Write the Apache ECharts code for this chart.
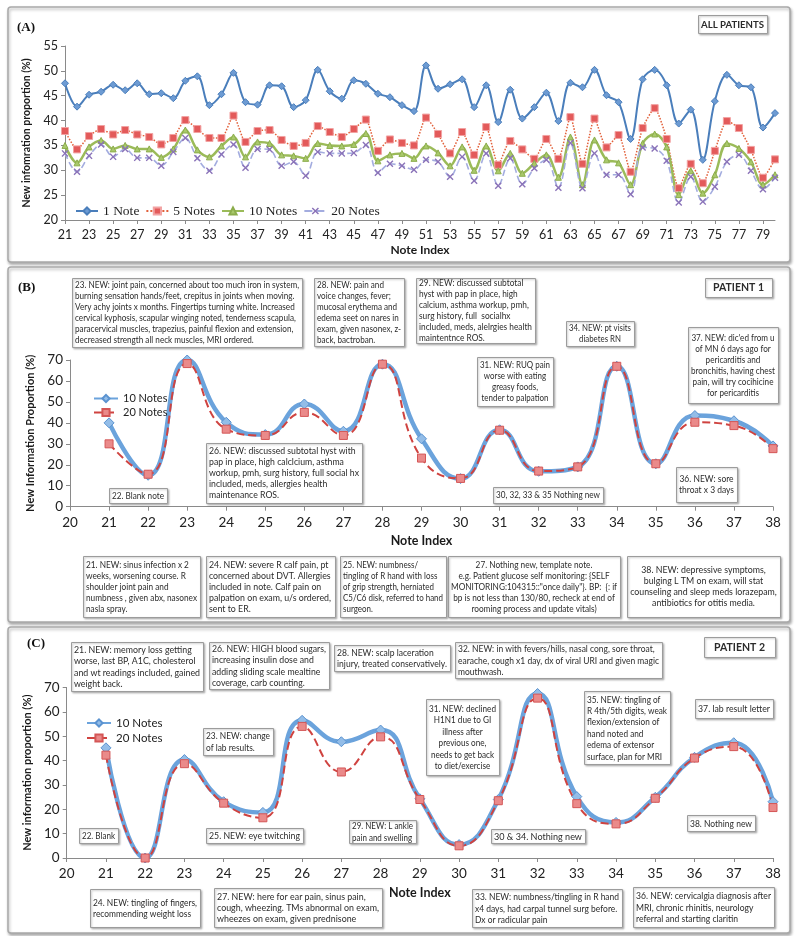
<!DOCTYPE html>
<html><head><meta charset="utf-8">
<script src="https://cdn.jsdelivr.net/npm/echarts@6/dist/echarts.min.js"></script>
<style>html,body{margin:0;padding:0;background:#fff}#c{width:800px;height:936px}</style>
</head><body><div id="c"></div>
<script>
// ---------- DATA ----------
const notesA = [21,22,23,24,25,26,27,28,29,30,31,32,33,34,35,36,37,38,39,40,41,42,43,44,45,46,47,48,49,50,51,52,53,54,55,56,57,58,59,60,61,62,63,64,65,66,67,68,69,70,71,72,73,74,75,76,77,78,79,80];
const a1  = [47.5,42.8,45.2,45.8,47.2,46.1,47.5,45.3,45.5,44.5,48.0,48.9,43.1,45.3,49.6,43.7,43.2,47.1,46.9,42.7,44.1,50.2,45.9,44.4,48.1,47.4,45.4,44.7,43.1,41.9,51.1,46.4,47.3,48.3,42.7,47.1,39.7,46.2,40.4,42.7,45.6,39.9,47.6,46.7,50.2,45.1,43.7,36.3,48.3,50.2,47.1,39.4,42.2,32.1,43.9,49.2,47.1,46.7,38.6,41.5];
const a5  = [37.9,34.2,36.9,38.3,37.2,38.1,37.2,36.7,35.2,36.5,40.1,38.3,36.5,36.5,41.0,35.7,37.9,38.1,36.1,34.9,35.5,38.9,37.7,36.7,38.3,40.2,33.9,36.2,35.5,35.0,40.6,37.3,33.4,37.7,33.1,38.7,31.1,35.9,34.2,32.3,36.3,32.3,40.7,31.3,40.4,34.6,37.1,29.7,38.5,42.5,36.3,26.4,31.3,27.4,33.9,39.9,38.5,34.1,28.5,32.2];
const a10 = [35.0,31.5,34.7,36.0,34.3,35.0,34.3,34.3,32.6,34.3,38.1,34.1,32.7,34.9,36.7,32.7,35.7,35.4,33.1,32.9,32.4,35.4,35.0,34.9,35.2,37.4,31.9,33.1,33.4,32.4,34.9,33.5,30.9,34.7,30.0,34.9,29.9,33.4,29.4,31.4,33.1,28.6,36.7,27.1,36.1,32.1,31.5,27.1,35.4,37.3,34.7,25.1,29.9,25.4,29.1,35.4,34.4,31.7,27.1,29.1];
const a20 = [33.4,29.7,32.9,35.2,32.7,34.3,32.5,32.5,30.9,33.7,36.5,32.4,29.9,33.2,35.2,30.5,34.3,34.2,30.9,31.7,28.9,33.7,33.4,33.4,33.5,35.1,29.5,31.3,30.9,30.1,32.1,31.7,28.7,32.7,27.9,33.4,26.9,32.4,27.2,30.4,32.1,26.5,35.5,26.4,33.4,29.1,29.1,25.2,34.6,34.4,31.9,23.5,28.7,23.7,26.7,31.7,33.1,29.9,26.2,28.5];
const seriesNamesA = ['1 Note','5 Notes','10 Notes','20 Notes'];

const notesBC = [21,22,23,24,25,26,27,28,29,30,31,32,33,34,35,36,37,38];
const b10 = [40,15,70,40.3,34.4,49,36,68,32.4,13.4,36.7,16.9,19,67,20.5,43.5,41,29];
const b20 = [30,15.5,68.3,37,34,45,34,68,23.2,13.5,36.5,17,19,67,20.5,40.3,38.7,27.7];
const c10 = [45.2,0,40.4,23.1,18.7,56.5,47.7,52.5,24.3,5.5,24,67.5,25.2,14.6,24.9,41.3,47.3,23.1];
const c20 = [42.2,0,38.7,22.5,16.5,54,35.3,49.7,24,5,23.5,65.6,22.3,14,24.5,41,45.7,20.7];
const seriesNamesBC = ['10 Notes','20 Notes'];

// ---------- HELPERS ----------
const SANS = 'Lato, "Liberation Sans", sans-serif';
const SERIF = '"Liberation Serif", "DejaVu Serif", serif';
const NOTE_FONT = 'Lato, "Open Sans", sans-serif';
const mctx = document.createElement('canvas').getContext('2d');
function measure(t, font){ mctx.font = font; return mctx.measureText(t).width; }

function noteBox(x1,y1,x2,y2,lines,align,fs,lh,bold){
  const els=[]; const w=x2-x1, h=y2-y1;
  els.push({type:'rect', z:1, shape:{x:x1+0.5,y:y1+0.5,width:w,height:h},
    style:{fill:'#fff',stroke:'#9c9c9c',lineWidth:1,shadowBlur:2,shadowOffsetX:1,shadowOffsetY:1,shadowColor:'rgba(0,0,0,0.25)'}});
  const font = (bold?'bold ':'') + fs + 'px ' + NOTE_FONT;
  let maxW = 0; lines.forEach(l=>{ maxW = Math.max(maxW, measure(l,font)); });
  const sx = Math.min(1, (w-6)/maxW);
  const top = y1 + (h - lines.length*lh)/2;
  const tx = align==='center' ? (x1+x2)/2 : x1+3;
  lines.forEach((l,i)=>{
    els.push({type:'text', z:2, x:tx, y:top + i*lh + lh/2 + 0.5, scaleX:sx,
      style:{text:l, font:font, fill:'#2b2b2b', textAlign:align, textVerticalAlign:'middle'}});
  });
  return els;
}
function panel(x1,y1,x2,y2){
  return {type:'rect', z:0, shape:{x:x1,y:y1,width:x2-x1,height:y2-y1,r:3},
    style:{fill:'#fff',stroke:'#a9a9a9',lineWidth:1.5,shadowBlur:3,shadowOffsetX:1,shadowOffsetY:2,shadowColor:'rgba(0,0,0,0.3)'}};
}
function title(x,y,t){
  return {type:'text', z:2, x:x, y:y, style:{text:t, font:'bold 13px '+SERIF, fill:'#111', textVerticalAlign:'top'}};
}

const BF = 8.8, BL = 11;   // panel B notes
const CF = 9.6, CL = 11.4; // panel C notes
let G = [];
G.push(panel(8,7,790,262), panel(8,267,790,622), panel(8,627,790,933));
G.push(title(17,21,'(A)'), title(18,281,'(B)'), title(27,637,'(C)'));
G = G.concat(noteBox(698,15,767,33,['ALL PATIENTS'],'center',10,12,true));
G = G.concat(noteBox(705,278,772,297,['PATIENT 1'],'center',10.5,12,true));
G = G.concat(noteBox(704,637,775,657,['PATIENT 2'],'center',10.5,12,true));

// Panel B notes
G = G.concat(noteBox(72,278,302,347,[
 '23. NEW: joint pain, concerned about too much iron in system,',
 'burning sensation hands/feet, crepitus in joints when moving.',
 'Very achy joints x months. Fingertips turning white. Increased',
 'cervical kyphosis, scapular winging noted, tenderness scapula,',
 'paracervical muscles, trapezius, painful flexion and extension,',
 'decreased strength all neck muscles, MRI ordered.'],'left',BF,BL));
G = G.concat(noteBox(314,278,404,346,[
 '28. NEW: pain and','voice changes, fever;','mucosal erythema and','edema seet on nares in','exam, given nasonex, z-','back, bactroban.'],'left',BF,BL));
G = G.concat(noteBox(416,278,535,343,[
 '29. NEW: discussed subtotal','hyst with pap in place, high','calcium, asthma workup, pmh,','surg history, full  socialhx','included, meds, alelrgies health','maintentnce ROS.'],'left',BF,BL));
G = G.concat(noteBox(566,321,634,346,['34. NEW: pt visits','diabetes RN'],'center',BF,BL));
G = G.concat(noteBox(688,327,778,403,[
 "37. NEW: dic'ed from u",'of MN 6 days ago for','pericarditis and','bronchitis, having chest','pain, will try cocihicine','for pericarditis'],'center',BF,BL));
G = G.concat(noteBox(477,357,553,406,['31. NEW: RUQ pain','worse with eating','greasy foods,','tender to palpation'],'center',BF,BL));
G = G.concat(noteBox(206,443,362,503,[
 '26. NEW: discussed subtotal hyst with','pap in place, high calclcium, asthma','workup, pmh, surg history, full social hx','included, meds, allergies health','maintenance ROS.'],'left',BF,BL));
G = G.concat(noteBox(109,488,167,503,['22. Blank note'],'center',BF,BL));
G = G.concat(noteBox(493,487,603,503,['30, 32, 33 & 35 Nothing new'],'center',BF,BL));
G = G.concat(noteBox(676,467,737,502,['36. NEW: sore','throat x 3 days'],'center',BF,BL));
G = G.concat(noteBox(83,556,200,617,[
 '21. NEW: sinus infection x 2','weeks, worsening course. R','shoulder joint pain and','numbness , given abx, nasonex','nasla spray.'],'left',BF,BL));
G = G.concat(noteBox(206,556,335,617,[
 '24. NEW: severe R calf pain, pt','concerned about DVT. Allergies','included in note. Calf pain on','palpation on exam, u/s ordered,','sent to ER.'],'left',BF,BL));
G = G.concat(noteBox(340,556,446,617,[
 '25. NEW: numbness/','tingling of R hand with loss','of grip strength, herniated','C5/C6 disk, referred to hand','surgeon.'],'left',BF,BL));
G = G.concat(noteBox(448,556,620,617,[
 '27. Nothing new, template note.','e.g. Patient glucose self monitoring: {SELF','MONITORING:104315::"once daily"}. BP:  {: if','bp is not less than 130/80, recheck at end of','rooming process and update vitals)'],'center',BF,BL));
G = G.concat(noteBox(627,556,780,617,[
 '38. NEW: depressive symptoms,','bulging L TM on exam, will stat','counseling and sleep meds lorazepam,','antibiotics for otitis media.'],'center',BF,BL));

// Panel C notes
G = G.concat(noteBox(71,642,203,691,['21. NEW: memory loss getting','worse, last BP, A1C, cholesterol','and wt readings included, gained','weight back.'],'left',CF,CL));
G = G.concat(noteBox(209,642,329,689,['26. NEW: HIGH blood sugars,','increasing insulin dose and','adding sliding scale mealtine','coverage, carb counting.'],'left',CF,CL));
G = G.concat(noteBox(334,645,450,671,['28. NEW: scalp laceration','injury, treated conservatively.'],'left',CF,CL));
G = G.concat(noteBox(455,642,662,678,['32. NEW: in with fevers/hills, nasal cong, sore throat,','earache, cough x1 day, dx of viral URI and given magic','mouthwash.'],'left',CF,CL));
G = G.concat(noteBox(203,728,273,755,['23. NEW: change','of lab results.'],'left',CF,CL));
G = G.concat(noteBox(426,699,499,775,['31. NEW: declined','H1N1 due to GI','illness after','previous one,','needs to get back','to diet/exercise'],'center',CF,CL));
G = G.concat(noteBox(584,691,670,764,['35. NEW: tingling of','R 4th/5th digits, weak','flexion/extension of','hand noted and','edema of extensor','surface, plan for MRI'],'left',CF,CL));
G = G.concat(noteBox(695,699,773,718,['37. lab result letter'],'center',CF,CL));
G = G.concat(noteBox(79,828,118,843,['22. Blank'],'center',CF,CL));
G = G.concat(noteBox(206,828,303,843,['25. NEW: eye twitching'],'center',CF,CL));
G = G.concat(noteBox(349,820,416,843,['29. NEW: L ankle','pain and swelling'],'left',CF,CL));
G = G.concat(noteBox(491,829,585,843,['30 & 34. Nothing new'],'center',CF,CL));
G = G.concat(noteBox(687,815,755,831,['38. Nothing new'],'center',CF,CL));
G = G.concat(noteBox(90,889,200,927,['24. NEW: tingling of fingers,','recommending weight loss'],'left',CF,CL));
G = G.concat(noteBox(214,888,382,927,['27. NEW: here for ear pain, sinus pain,','cough, wheezing. TMs abnormal on exam,','wheezes on exam, given prednisone'],'left',CF,CL));
G = G.concat(noteBox(472,889,622,927,['33. NEW: numbness/tingling in R hand','x4 days, had carpal tunnel surg before.','Dx or radicular pain'],'left',CF,CL));
G = G.concat(noteBox(633,887,774,927,['36. NEW: cervicalgia diagnosis after','MRI, chronic rhinitis, neurology','referral and starting claritin'],'left',CF,CL));

// ---------- CHART ----------
const XSYM = 'path://M0,1.4L1.4,0L5,3.6L8.6,0L10,1.4L6.4,5L10,8.6L8.6,10L5,6.4L1.4,10L0,8.6L3.6,5Z';
const axisColor = '#8a8a8a';
const nameStyle = {fontWeight:'bold', fontSize:11, fontFamily:SANS, color:'#1a1a1a'};
function valX(gi, name, gap){
  return {gridIndex:gi, type:'value', min:20, max:38, interval:1,
    axisLine:{lineStyle:{color:axisColor}}, axisTick:{length:4,lineStyle:{color:axisColor}},
    splitLine:{show:false}, axisLabel:{fontSize:13.5, color:'#222', fontFamily:SANS, margin:9},
    name:name, nameLocation:'middle', nameGap:gap, nameTextStyle:Object.assign({},nameStyle,{fontSize:12.5})};
}
function valY(gi, name){
  return {gridIndex:gi, type:'value', min:0, max:70, interval:10,
    axisLine:{show:true,lineStyle:{color:axisColor}}, axisTick:{show:true,length:4,lineStyle:{color:axisColor}},
    splitLine:{show:false}, axisLabel:{fontSize:13.5, color:'#222', fontFamily:SANS, margin:7},
    name:name, nameLocation:'middle', nameGap:30, nameTextStyle:nameStyle};
}
const pairs = (xs, ys) => xs.map((x,i)=>[x, ys[i]]);
const legendNames = {B10:'10 Notes', B20:'20 Notes', C10:'10 Notes', C20:'20 Notes'};

const option = {
  animation:false,
  backgroundColor:'#fff',
  textStyle:{fontFamily:SANS},
  grid:[
    {left:65, top:46, width:710, height:174},
    {left:70, top:360, width:703, height:146.7},
    {left:66.7, top:687.4, width:706.3, height:170.6}
  ],
  xAxis:[
    {gridIndex:0, type:'category', data:notesA, boundaryGap:false,
     axisLine:{lineStyle:{color:axisColor}}, axisTick:{interval:1, length:4, lineStyle:{color:axisColor}},
     axisLabel:{interval:1, fontSize:12.5, color:'#222', fontFamily:SANS, margin:8},
     name:'Note Index', nameLocation:'middle', nameGap:24, nameTextStyle:Object.assign({},nameStyle,{fontSize:12})},
    valX(1,'Note Index',28),
    valX(2,'Note Index',28)
  ],
  yAxis:[
    {gridIndex:0, type:'value', min:20, max:55, interval:5,
     axisLine:{show:true,lineStyle:{color:axisColor}}, axisTick:{show:true,length:4,lineStyle:{color:axisColor}},
     splitLine:{show:false}, axisLabel:{fontSize:12.5, color:'#222', fontFamily:SANS, margin:7},
     name:'New infomration proportion (%)', nameLocation:'middle', nameGap:30,
     nameTextStyle:Object.assign({},nameStyle,{fontSize:10.5})},
    valY(1,'New Information Proportion (%)'),
    valY(2,'New information proportion (%)')
  ],
  legend:[
    {data:seriesNamesA, left:70, top:199, orient:'horizontal', selectedMode:false,
     itemWidth:22, itemHeight:9, itemGap:6,
     textStyle:{fontFamily:SERIF, fontSize:13.5, color:'#222'}},
    {data:['B10','B20'], left:88, top:388, orient:'vertical', selectedMode:false,
     itemWidth:24, itemHeight:9, itemGap:3, formatter:n=>legendNames[n],
     textStyle:{fontFamily:SANS, fontSize:11, color:'#222'}},
    {data:['C10','C20'], left:81, top:712, orient:'vertical', selectedMode:false,
     itemWidth:24, itemHeight:9, itemGap:3, formatter:n=>legendNames[n],
     textStyle:{fontFamily:SANS, fontSize:11.5, color:'#222'}}
  ],
  graphic:{elements:G},
  series:[
    {name:seriesNamesA[0], type:'line', xAxisIndex:0, yAxisIndex:0, data:a1, smooth:0.35, showAllSymbol:true,
     symbol:'diamond', symbolSize:7, lineStyle:{color:'#4a7ebb', width:2},
     itemStyle:{color:'#6d9bd3', borderColor:'#4a7ebb', borderWidth:1}},
    {name:seriesNamesA[1], type:'line', xAxisIndex:0, yAxisIndex:0, data:a5, smooth:0.2, showAllSymbol:true,
     symbol:'rect', symbolSize:7, lineStyle:{color:'#e2603a', width:1.5, type:'dotted'},
     itemStyle:{color:'#e35a5a', borderColor:'#f2a2a2', borderWidth:1}},
    {name:seriesNamesA[2], type:'line', xAxisIndex:0, yAxisIndex:0, data:a10, smooth:0.35, showAllSymbol:true,
     symbol:'triangle', symbolSize:6, lineStyle:{color:'#9bbb59', width:2.5},
     itemStyle:{color:'#a9c96b', borderColor:'#8cad4c', borderWidth:1}},
    {name:seriesNamesA[3], type:'line', xAxisIndex:0, yAxisIndex:0, data:a20, smooth:0.35, showAllSymbol:true,
     symbol:XSYM, symbolSize:7, lineStyle:{color:'#a3acdf', width:1.6, type:'dashed'},
     itemStyle:{color:'#8a72b8'}},

    {name:'B10', type:'line', xAxisIndex:1, yAxisIndex:1, data:pairs(notesBC,b10), smooth:0.5,
     symbol:'diamond', symbolSize:10, lineStyle:{color:'#6ba3dc', width:4.5},
     itemStyle:{color:'#93bde8', borderColor:'#5b93d0', borderWidth:1}},
    {name:'B20', type:'line', xAxisIndex:1, yAxisIndex:1, data:pairs(notesBC,b20), smooth:0.5,
     symbol:'rect', symbolSize:8, lineStyle:{color:'#cf4340', width:2, type:'dashed'},
     itemStyle:{color:'#ea8a8a', borderColor:'#d45656', borderWidth:1}},

    {name:'C10', type:'line', xAxisIndex:2, yAxisIndex:2, data:pairs(notesBC,c10), smooth:0.5,
     symbol:'diamond', symbolSize:10, lineStyle:{color:'#6ba3dc', width:4.5},
     itemStyle:{color:'#93bde8', borderColor:'#5b93d0', borderWidth:1}},
    {name:'C20', type:'line', xAxisIndex:2, yAxisIndex:2, data:pairs(notesBC,c20), smooth:0.5,
     symbol:'rect', symbolSize:8, lineStyle:{color:'#cf4340', width:2, type:'dashed'},
     itemStyle:{color:'#ea8a8a', borderColor:'#d45656', borderWidth:1}}
  ]
};
const chart = echarts.init(document.getElementById('c'), null, {renderer:'canvas'});
chart.setOption(option);
</script>
</body></html>
